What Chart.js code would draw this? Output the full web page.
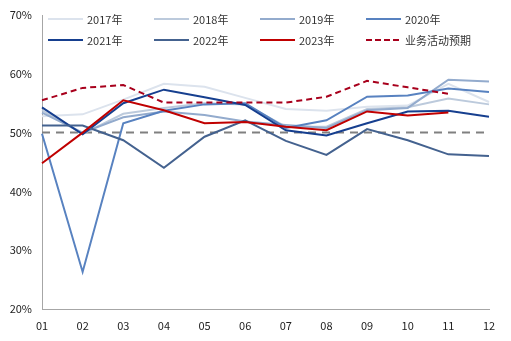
<!DOCTYPE html>
<html>
<head>
<meta charset="utf-8">
<script src="https://cdn.jsdelivr.net/npm/chart.js@4"></script>
<style>
body{margin:0;background:#fff;}
#wrap{position:relative;width:511px;height:341px;}
#legend{position:absolute;left:0;top:0;font:11px "Noto Sans CJK SC",sans-serif;color:#333;}
.item{position:absolute;height:14px;line-height:14px;white-space:nowrap;}
.item span.ln{position:absolute;left:0;top:6px;width:35px;height:2px;}
.item span.tx{position:absolute;left:39px;top:0;}
</style>
</head>
<body>
<div id="wrap">
<canvas id="c" width="511" height="341"></canvas>
<div id="legend"></div>
</div>
<script>
// datos
const meses = ["01","02","03","04","05","06","07","08","09","10","11","12"];
const y2017 = [52.8, 53.1, 55.6, 58.3, 57.8, 55.9, 54.0, 53.7, 54.4, 54.6, 58.3, 55.2];
const y2018 = [53.8, 49.8, 53.2, 54.2, 55.0, 54.8, 51.0, 51.0, 54.0, 54.3, 55.8, 54.8];
const y2019 = [53.4, 50.0, 52.6, 53.6, 53.0, 51.9, 51.3, 50.8, 53.8, 54.2, 59.0, 58.7];
const y2020 = [49.8, 26.3, 51.6, 53.7, 54.8, 55.0, 50.8, 52.1, 56.1, 56.3, 57.5, 56.9];
const y2021 = [54.3, 49.7, 55.0, 57.3, 56.0, 54.7, 50.4, 49.5, 51.6, 53.6, 53.7, 52.7];
const y2022 = [51.2, 51.2, 48.7, 44.0, 49.3, 52.1, 48.6, 46.2, 50.6, 48.7, 46.3, 46.0];
const y2023 = [44.8, 50.0, 55.5, 53.8, 51.6, 51.8, 51.0, 50.4, 53.6, 52.9, 53.4, null];
const expectativa = [55.5, 57.6, 58.1, 55.1, 55.1, 55.1, 55.1, 56.1, 58.8, 57.7, 56.6, null];
const linea50 = [50, 50, 50, 50, 50, 50, 50, 50, 50, 50, 50, 50];

const series = [
    {label:"2017年", data:y2017, color:"#dce3ed", dash:[]},
    {label:"2018年", data:y2018, color:"#bccadc", dash:[]},
    {label:"2019年", data:y2019, color:"#93abcd", dash:[]},
    {label:"2020年", data:y2020, color:"#5882c0", dash:[]},
    {label:"2021年", data:y2021, color:"#163f8f", dash:[]},
    {label:"2022年", data:y2022, color:"#44628f", dash:[]},
    {label:"2023年", data:y2023, color:"#c00000", dash:[]},
    {label:"业务活动预期", data:expectativa, color:"#a8001c", dash:[6,4]}
];

let datasets = series.map((s, i) => ({
    label: s.label,
    data: s.data,
    borderColor: s.color,
    backgroundColor: s.color,
    borderWidth: 2,
    borderDash: s.dash,
    pointRadius: 0,
    tension: 0,
    fill: false,
    order: 9 - i
}));
datasets.push({
    label: "50",
    data: linea50,
    borderColor: "#808080",
    borderWidth: 2,
    borderDash: [8,6],
    pointRadius: 0,
    fill: false,
    order: 20
});

new Chart(document.getElementById("c"), {
    type: 'line',
    data: {labels: meses, datasets: datasets},
    options: {
        responsive: false,
        animation: false,
        layout: {padding: {top: 15, right: 22, left: 0, bottom: 0}},
        plugins: {legend: {display: false}, tooltip: {enabled: false}},
        scales: {
            x: {
                offset: false,
                grid: {display: false},
                border: {display: true, color: "#a6a6a6", width: 1},
                ticks: {color: "#222", padding: 2, maxRotation: 0, font: {size: 11, family: "Noto Sans CJK SC"}},
                afterFit: s => { s.height = 32; }
            },
            y: {
                min: 20, max: 70,
                grid: {display: false},
                border: {display: true, color: "#a6a6a6", width: 1},
                ticks: {stepSize: 10, color: "#222", padding: 2, callback: v => v + "%", font: {size: 11, family: "Noto Sans CJK SC"}},
                afterFit: s => { s.width = 42; }
            }
        }
    }
});

// leyenda en html
let leg = document.getElementById("legend");
series.forEach((s, i) => {
    let col = i % 4, row = Math.floor(i / 4);
    let d = document.createElement("div");
    d.className = "item";
    d.style.left = (48 + col * 106) + "px";
    d.style.top = (12 + row * 21) + "px";
    let bg = s.dash.length ? `repeating-linear-gradient(to right, ${s.color} 0 6px, transparent 6px 9px)` : s.color;
    d.innerHTML = `<span class="ln" style="background:${bg}"></span><span class="tx">${s.label}</span>`;
    leg.appendChild(d);
});
</script>
</body>
</html>
